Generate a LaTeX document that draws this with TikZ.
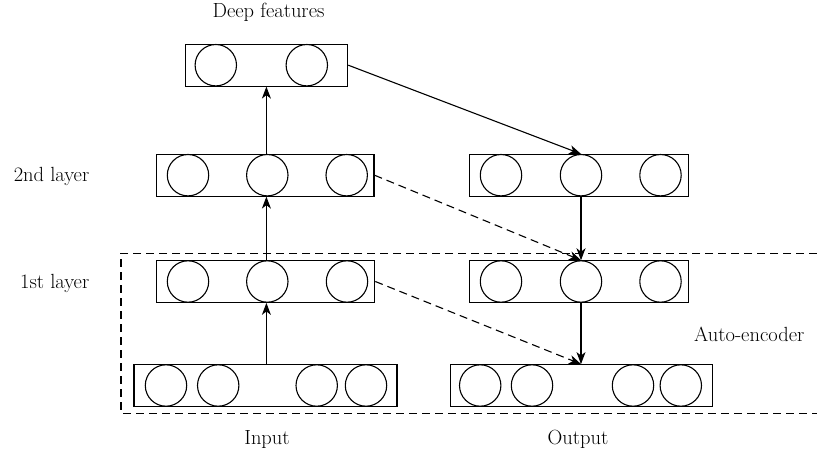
\documentclass[tikz,border=0pt]{standalone}
\usetikzlibrary{arrows.meta}
\begin{document}
\begin{tikzpicture}[x=1pt,y=-1pt,
  lbl/.style={font=\fontsize{20.5}{23}\selectfont, inner sep=0pt},
  layerbox/.style={draw, line width=1.1pt, minimum height=41.7pt, inner sep=0pt},
  unit/.style={draw, circle, line width=1.1pt, minimum size=41.4pt, inner sep=0pt},
  arr/.style={line width=1.1pt, -{Stealth[length=12pt,width=9pt,inset=3.5pt]}},
  darr/.style={arr, dash pattern=on 8pt off 5pt},
  aebox/.style={line width=1.1pt, dash pattern=on 8pt off 5pt}]
\useasboundingbox (0,0) rectangle (817,455);

% auto-encoder frame (open on the right)
\coordinate (aeA) at (817,253.3);
\coordinate (aeB) at (121,253.3);
\coordinate (aeC) at (121,413.3);
\coordinate (aeD) at (817,413.3);
\draw[aebox] (aeA) -- (aeB) -- (aeC) -- (aeD);

% encoder column
\node[layerbox, minimum width=162.7pt] (deep) at (266.4,65.2) {};
\node[unit] (dc1) at (215.8,65.2) {};
\node[unit] (dc2) at (306.8,65.2) {};

\node[layerbox, minimum width=217.5pt] (l2) at (265.2,175.2) {};
\node[unit] (l2c1) at (188,175.2) {};
\node[unit] (l2c2) at (267.3,175.2) {};
\node[unit] (l2c3) at (346.7,175.2) {};

\node[layerbox, minimum width=218.5pt] (l1) at (265.5,281.5) {};
\node[unit] (l1c1) at (188,281.5) {};
\node[unit] (l1c2) at (267.3,281.5) {};
\node[unit] (l1c3) at (347,281.5) {};

\node[layerbox, minimum width=263pt] (in) at (265.5,385.5) {};
\node[unit] (ic1) at (166,385.5) {};
\node[unit] (ic2) at (218.2,385.5) {};
\node[unit] (ic3) at (316.7,385.5) {};
\node[unit] (ic4) at (366,385.5) {};

% decoder column
\node[layerbox, minimum width=219pt] (o2) at (578.8,175.2) {};
\node[unit] (o2c1) at (501,175.2) {};
\node[unit] (o2c2) at (581,175.2) {};
\node[unit] (o2c3) at (660.5,175.2) {};

\node[layerbox, minimum width=219pt] (o1) at (578.8,281.5) {};
\node[unit] (o1c1) at (501,281.5) {};
\node[unit] (o1c2) at (581,281.5) {};
\node[unit] (o1c3) at (660.5,281.5) {};

\node[layerbox, minimum width=262pt] (out) at (581.7,385.5) {};
\node[unit] (oc1) at (480.2,385.5) {};
\node[unit] (oc2) at (532,385.5) {};
\node[unit] (oc3) at (633,385.5) {};
\node[unit] (oc4) at (680.8,385.5) {};

% labels
\node[lbl] (tdeep) at (268.5,12) {Deep features};
\node[lbl, anchor=east] (t2) at (89.5,176) {2nd layer};
\node[lbl, anchor=east] (t1) at (89.5,283) {1st layer};
\node[lbl] (tin) at (267,439) {Input};
\node[lbl] (tout) at (578,439) {Output};
\node[lbl, anchor=west] (tae) at (694,334) {Auto-encoder};

% connections
\draw[arr] (in.north -| deep) -- (l1.south -| deep);
\draw[arr] (l1.north -| deep) -- (l2.south -| deep);
\draw[arr] (l2.north -| deep) -- (deep.south);
\draw[arr] (deep.east) -- (o2c2.north);
\draw[arr] (o2c2.south) -- (o1c2.north);
\draw[arr] (o1c2.south) -- (out.north -| o1c2);
\draw[darr] (l2.east) -- (o1c2.north);
\draw[darr] (l1.east) -- (out.north -| o1c2);
\end{tikzpicture}
\end{document}
